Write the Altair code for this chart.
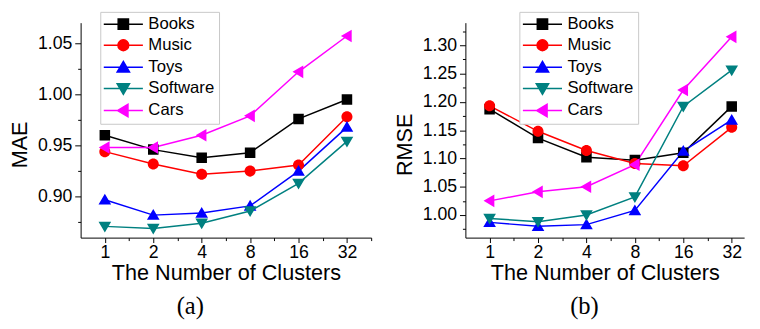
import altair as alt
import pandas as pd

clusters = [1, 2, 4, 8, 16, 32]
series = ["Books", "Music", "Toys", "Software", "Cars"]
colors = ["#000000", "#ff0000", "#0000ff", "#008080", "#ff00ff"]

# MAE values (panel a)
mae_books = [0.960, 0.946, 0.938, 0.943, 0.976, 0.995]
mae_music = [0.944, 0.932, 0.922, 0.925, 0.931, 0.978]
mae_toys = [0.897, 0.882, 0.884, 0.891, 0.925, 0.968]
mae_software = [0.871, 0.869, 0.874, 0.886, 0.913, 0.954]
mae_cars = [0.948, 0.948, 0.960, 0.979, 1.022, 1.057]

# RMSE values (panel b)
rmse_books = [1.187, 1.136, 1.102, 1.097, 1.110, 1.192]
rmse_music = [1.193, 1.148, 1.114, 1.091, 1.087, 1.155]
rmse_toys = [0.987, 0.980, 0.983, 1.008, 1.113, 1.168]
rmse_software = [0.994, 0.988, 1.000, 1.032, 1.192, 1.256]
rmse_cars = [1.025, 1.041, 1.050, 1.089, 1.221, 1.315]

mae_ticks = [0.875, 0.900, 0.925, 0.950, 0.975, 1.000, 1.025, 1.050]
rmse_ticks = [0.975, 1.000, 1.025, 1.050, 1.075, 1.100, 1.125, 1.150,
              1.175, 1.200, 1.225, 1.250, 1.275, 1.300, 1.325]

FONT = "Liberation Sans"

LINE = "M-3.8,0H3.8"
marker_paths = [
    "M-1,-1H1V1H-1Z",
    "M-1.05,0A1.05,1.05 0 1,0 1.05,0A1.05,1.05 0 1,0 -1.05,0Z",
    "M0,-1.15L1.2,0.9H-1.2Z",
    "M0,1.15L1.2,-0.9H-1.2Z",
    "M-1.15,0L0.9,-1.2V1.2Z",
]
shape_range = [LINE + p for p in marker_paths]


def make_df(values):
    rows = []
    for s, vals in zip(series, values):
        for c, v in zip(clusters, vals):
            rows.append({"clusters": c, "series": s, "value": v})
    return pd.DataFrame(rows)


x_ticks = [2 ** (k / 2) for k in range(0, 12)]
x_major = "abs(log(datum.value)/LN2 - round(log(datum.value)/LN2)) < 0.01"
y_major = "abs(round(datum.value*1000) % 50) < 1"


def panel(df, ytitle, ydom, yticks, width, legend_x, title, title_dx):
    px_per_oct = 296 / 6.0
    xdom = [2 ** -0.5, 2 ** (-0.5 + width / px_per_oct)]
    x = alt.X(
        "clusters:Q",
        scale=alt.Scale(type="log", base=2, domain=xdom, nice=False),
        axis=alt.Axis(
            values=x_ticks,
            title="The Number of Clusters",
            labelExpr=f"{x_major} ? format(datum.value, 'd') : ''",
            tickSize={"condition": {"test": x_major, "value": 5}, "value": 3},
            labelFontSize=18,
            labelPadding=1,
            titleFontSize=22,
            titlePadding=2,
            grid=False,
            labelFlush=False,
            labelOverlap=False,
        ),
    )
    y = alt.Y(
        "value:Q",
        scale=alt.Scale(domain=ydom, nice=False, zero=False),
        axis=alt.Axis(
            values=yticks,
            title=ytitle,
            labelExpr=f"{y_major} ? format(datum.value, '.2f') : ''",
            tickSize={"condition": {"test": y_major, "value": 6}, "value": 3},
            labelFontSize=18,
            labelPadding=3,
            titleFontSize=22,
            titlePadding=6,
            titleY=124,
            grid=False,
            labelOverlap=False,
        ),
    )
    leg = alt.Legend(
        title=None,
        orient="none",
        legendX=legend_x,
        legendY=-11,
        labelFont=FONT,
        labelFontSize=17,
        labelColor="black",
        symbolSize=110,
        symbolStrokeWidth=1.5,
        symbolOffset=11,
        labelOffset=17,
        rowPadding=3.5,
        padding=4,
        strokeColor="#c8c8c8",
        fillColor="white",
    )
    stroke = alt.Stroke("series:N", scale=alt.Scale(domain=series, range=colors), legend=leg)
    lines = alt.Chart(df).mark_line(strokeWidth=1.5).encode(
        x=x, y=y, stroke=stroke,
    )
    points = alt.Chart(df).mark_point(filled=True, size=115, strokeWidth=0, opacity=1).encode(
        x=x, y=y,
        fill=alt.Fill("series:N", scale=alt.Scale(domain=series, range=colors), legend=leg),
        stroke=stroke,
        shape=alt.Shape("series:N", scale=alt.Scale(domain=series, range=shape_range), legend=leg),
    )
    return alt.layer(lines, points).properties(
        width=width,
        height=219,
        title=alt.TitleParams(
            title, orient="bottom", font="Liberation Serif", fontSize=25,
            fontWeight="normal", anchor="middle", frame="bounds", offset=11,
            dx=title_dx, color="black",
        ),
    )


left = panel(make_df([mae_books, mae_music, mae_toys, mae_software, mae_cars]),
             "MAE", [0.86, 1.07], mae_ticks, 296, 20, "(a)", 0)
right = panel(make_df([rmse_books, rmse_music, rmse_toys, rmse_software, rmse_cars]),
              "RMSE", [0.96, 1.34], rmse_ticks, 284, 55, "(b)", 12)

chart = alt.hconcat(left, right, spacing=21).resolve_scale(
    stroke="independent", fill="independent", shape="independent"
).resolve_legend(
    stroke="independent", fill="independent", shape="independent"
).properties(padding=0).configure_view(
    stroke=None
).configure_axis(
    domainColor="black", tickColor="black", labelColor="black", titleColor="black",
    labelFont=FONT, titleFont=FONT, titleFontWeight="normal", domainWidth=1, tickWidth=1,
).configure_scale(
    continuousPadding=0
)

chart.save("out.html", embed_options={"renderer": "svg", "actions": False})
